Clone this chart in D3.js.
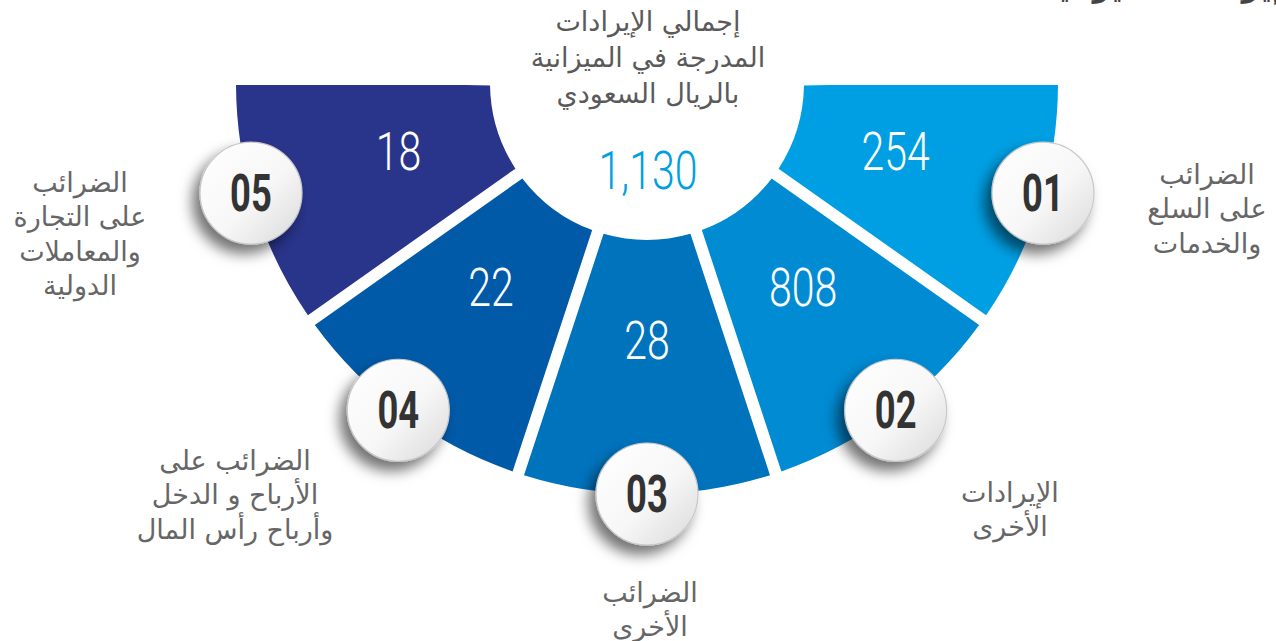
<!DOCTYPE html>
<html><head><meta charset="utf-8">
<script src="https://cdn.jsdelivr.net/npm/d3@7"></script>
<style>html,body{margin:0;padding:0;background:#fff;}svg{display:block;}</style>
</head><body>
<svg id="chart" width="1276" height="641"></svg>
<script>
const categories = ["01", "02", "03", "04", "05"];
const values = [254, 808, 28, 22, 18];
const labels = [
  ["الضرائب", "على السلع", "والخدمات"],
  ["الإيرادات", "الأخرى"],
  ["الضرائب", "الأخرى"],
  ["الضرائب على", "الأرباح و الدخل", "وأرباح رأس المال"],
  ["الضرائب", "على التجارة", "والمعاملات", "الدولية"]
];
const colors = ["#009fe3", "#008bd3", "#0073bd", "#005aa8", "#29348b"];
const totalLabel = ["إجمالي الإيرادات", "المدرجة في الميزانية", "بالريال السعودي"];
const totalValue = 1130;
const pageTitle = "إيرادات الميزانية";

const svg = d3.select("#chart");
const cx = 647, cy = 83, rIn = 157, rOut = 411;
const fmt = d3.format(",");
const delta = 0.022;
const angle = d3.scaleBand().domain(categories).range([Math.PI / 2 - delta, 3 * Math.PI / 2 + delta]).paddingInner(0).paddingOuter(0);

const defs = svg.append("defs");
const f = defs.append("filter").attr("id", "shadow").attr("x", "-60%").attr("y", "-60%").attr("width", "220%").attr("height", "220%");
f.append("feDropShadow").attr("dx", -7).attr("dy", 9).attr("stdDeviation", 7)
  .attr("flood-color", "#000").attr("flood-opacity", 0.55);
const g = defs.append("linearGradient").attr("id", "btnGrad")
  .attr("x1", "0").attr("y1", "0").attr("x2", "1").attr("y2", "1");
g.append("stop").attr("offset", "0%").attr("stop-color", "#ffffff");
g.append("stop").attr("offset", "55%").attr("stop-color", "#f7f7f7");
g.append("stop").attr("offset", "100%").attr("stop-color", "#d9d9d9");
defs.append("clipPath").attr("id", "clipTopLocal").append("rect")
  .attr("x", -700).attr("y", 85 - cy).attr("width", 1400).attr("height", 700);

const arc = d3.arc().innerRadius(rIn).outerRadius(rOut).padAngle(0.12).padRadius(100);

const root = svg.append("g").attr("transform", `translate(${cx},${cy})`);

const segG = root.append("g").attr("clip-path", "url(#clipTopLocal)");
segG.selectAll("path").data(categories).join("path")
  .attr("d", (c) => arc({ startAngle: angle(c), endAngle: angle(c) + angle.bandwidth() }))
  .attr("fill", (c, i) => colors[i]);

// angle placement for labels/buttons (slightly spread from mid angle)
function placeAngle(c) {
  const mid = angle(c) + angle.bandwidth() / 2;
  return Math.PI + (mid - Math.PI) * 1.02;
}
function pos(c, r) {
  const a = placeAngle(c);
  return [r * Math.sin(a), -r * Math.cos(a)];
}

// values in segments
root.selectAll("text.val").data(categories).join("text")
  .attr("class", "val")
  .attr("transform", (c) => { const p = pos(c, 258); return `translate(${p[0]},${p[1]}) scale(0.76,1)`; })
  .attr("text-anchor", "middle").attr("dominant-baseline", "central")
  .attr("font-family", "Roboto, 'DejaVu Sans', sans-serif").attr("font-weight", 300)
  .attr("font-size", 54).attr("fill", "#fff")
  .text((c, i) => fmt(values[i]));

// number buttons
const btn = root.selectAll("g.btn").data(categories).join("g")
  .attr("class", "btn")
  .attr("transform", (c) => { const p = pos(c, 411); return `translate(${p[0]},${p[1]})`; });
btn.append("circle").attr("r", 51).attr("fill", "url(#btnGrad)")
  .attr("stroke", "#c8c8c8").attr("stroke-width", 1.2).attr("filter", "url(#shadow)");
btn.append("text").attr("transform", "scale(0.7,1)")
  .attr("text-anchor", "middle").attr("dominant-baseline", "central")
  .attr("font-family", "Roboto, 'DejaVu Sans', sans-serif").attr("font-weight", 700)
  .attr("font-size", 52).attr("fill", "#333").text((c) => c);

// center total
const arabicFont = "'DejaVu Sans', 'Noto Sans', sans-serif";
svg.append("g").selectAll("text").data(totalLabel).join("text")
  .attr("x", 648).attr("y", (d, i) => 21 + i * 36)
  .attr("text-anchor", "middle").attr("dominant-baseline", "central")
  .attr("font-family", arabicFont).attr("font-size", 27).attr("fill", "#5a5a5a")
  .text((d) => d);
svg.append("text")
  .attr("transform", "translate(648,171) scale(0.76,1)")
  .attr("text-anchor", "middle").attr("dominant-baseline", "central")
  .attr("font-family", "Roboto, 'DejaVu Sans', sans-serif").attr("font-weight", 300)
  .attr("font-size", 54).attr("fill", "#009fe3").text(fmt(totalValue));

// outer labels
const labelPos = [[1207, 174], [1010, 492], [650, 592], [235, 460], [80, 182]];
const lg = svg.append("g");
categories.forEach((c, i) => {
  lg.append("g").selectAll("text").data(labels[i]).join("text")
    .attr("x", labelPos[i][0]).attr("y", (d, j) => labelPos[i][1] + j * 34.5)
    .attr("text-anchor", "middle").attr("dominant-baseline", "central")
    .attr("font-family", arabicFont).attr("font-size", 27).attr("fill", "#666")
    .text((d) => d);
});

// cut-off page title at the top right (only its lowest part is inside the picture)
svg.append("text").attr("x", 1282).attr("y", -3)
  .attr("text-anchor", "end")
  .attr("font-family", arabicFont).attr("font-weight", 700)
  .attr("font-size", 30).attr("fill", "#444").text(pageTitle);
</script>
</body></html>
